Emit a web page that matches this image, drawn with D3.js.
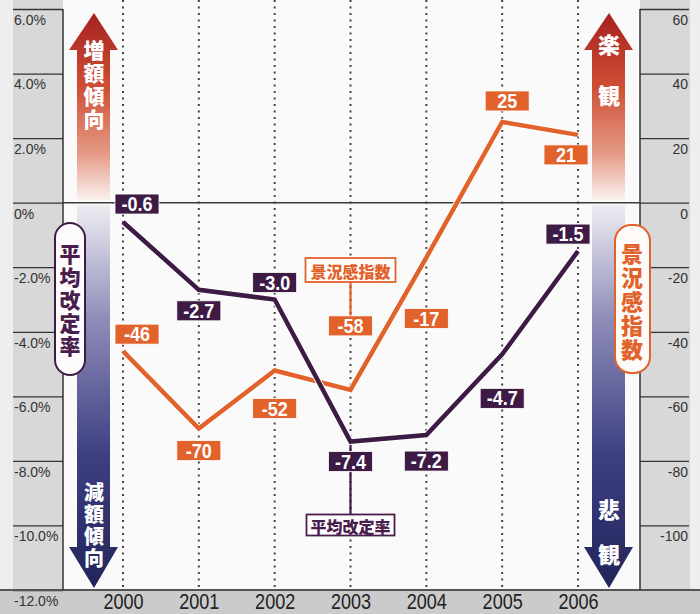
<!DOCTYPE html>
<html lang="ja">
<head>
<meta charset="utf-8">
<script src="https://cdn.jsdelivr.net/npm/d3@7"></script>
<style>
  html, body { margin: 0; padding: 0; background: #efefef; }
  svg { display: block; }
  .num { font-family: "Liberation Sans", Arial, sans-serif; }
  .jp { font-family: "Noto Sans CJK JP", "Noto Sans CJK SC", sans-serif; font-weight: 900; }
</style>
</head>
<body>
<svg id="chart" width="700" height="614"></svg>
<script>
// Years on the x axis
const years = ["2000", "2001", "2002", "2003", "2004", "2005", "2006"];
// 平均改定率 (%), left axis
const rateValues = [-0.6, -2.7, -3.0, -7.4, -7.2, -4.7, -1.5];
// 景況感指数, right axis
const sentimentValues = [-46, -70, -52, -58, -17, 25, 21];
// Axis tick values
const leftTicks = [6, 4, 2, 0, -2, -4, -6, -8, -10, -12];
const rightTicks = [60, 40, 20, 0, -20, -40, -60, -80, -100];

// Value-label placement relative to each point (dx, dy of box centre)
const rateLabelOffsets = [[14, -18], [0, 21], [0, -17], [0, 20], [0, 26], [0, 44], [-10, -17]];
const sentLabelOffsets = [[14, -17], [0, 22], [0, 38], [0, -64], [0, 61], [5, -21], [-12, 20]];

const W = 700, H = 614;
const plotLeft = 63, plotRight = 640, plotTop = 9, plotBottom = 590;
const purple = "#3d1b45", orange = "#e2622b";

// Hyphen-minus formatting, as printed on the chart
const hy = f => v => f(v).replace("\u2212", "-");
const fmtRate = hy(d3.format(".1f"));
const fmtInt = hy(d3.format("d"));

const svg = d3.select("#chart");
const defs = svg.append("defs");

const x = d3.scalePoint().domain(years).range([123, 578]);
const yL = d3.scaleLinear().domain([-12, 6]).range([plotBottom, plotTop]);
const yR = d3.scaleLinear().domain([-120, 60]).range([plotBottom, plotTop]);

// Gradients for the direction arrows
const gUp = defs.append("linearGradient").attr("id", "gUp").attr("x1", 0).attr("y1", 0).attr("x2", 0).attr("y2", 1);
gUp.append("stop").attr("offset", "0%").attr("stop-color", "#a5221f");
gUp.append("stop").attr("offset", "40%").attr("stop-color", "#cf4f35");
gUp.append("stop").attr("offset", "75%").attr("stop-color", "#e59a86");
gUp.append("stop").attr("offset", "100%").attr("stop-color", "#fbf1ee");
const gDown = defs.append("linearGradient").attr("id", "gDown").attr("x1", 0).attr("y1", 0).attr("x2", 0).attr("y2", 1);
gDown.append("stop").attr("offset", "0%").attr("stop-color", "#eeedf3");
gDown.append("stop").attr("offset", "30%").attr("stop-color", "#8d8cb8");
gDown.append("stop").attr("offset", "65%").attr("stop-color", "#3d3f82");
gDown.append("stop").attr("offset", "100%").attr("stop-color", "#22245a");

// Backgrounds
svg.append("rect").attr("x", 0).attr("y", 0).attr("width", W).attr("height", H).attr("fill", "#eeeeee");
svg.append("rect").attr("x", plotLeft).attr("y", 0).attr("width", plotRight - plotLeft).attr("height", plotBottom)
  .attr("fill", "#fafafa");
svg.append("rect").attr("x", 13).attr("y", 0).attr("width", plotLeft - 13).attr("height", plotBottom).attr("fill", "#d8d8d8");
svg.append("rect").attr("x", plotRight).attr("y", 0).attr("width", 50).attr("height", plotBottom).attr("fill", "#d8d8d8");
svg.append("rect").attr("x", 0).attr("y", plotBottom).attr("width", W).attr("height", H - plotBottom).attr("fill", "#cbcbcb");

// Dotted year guides
svg.append("g").selectAll("line").data(years).join("line")
  .attr("x1", d => x(d)).attr("x2", d => x(d)).attr("y1", 0).attr("y2", plotBottom)
  .attr("stroke", "#444").attr("stroke-width", 2).attr("stroke-dasharray", "2 4.5");

// Left axis (ticks drawn as lines across the grey panel, labels below each line)
const axL = svg.append("g").attr("transform", `translate(13,0)`)
  .call(d3.axisRight(yL).tickValues(leftTicks).tickSize(plotLeft - 13)
    .tickFormat(d => d === 0 ? "0%" : fmtRate(d) + "%"));
axL.select(".domain").remove();
axL.selectAll(".tick line").attr("stroke", "#333").attr("stroke-width", 1.3);
axL.selectAll(".tick text").attr("x", 1).attr("dy", "1.1em").attr("text-anchor", "start")
  .attr("class", "num").attr("font-size", 14).attr("fill", "#333");

// Right axis
const axR = svg.append("g").attr("transform", `translate(${plotRight},0)`)
  .call(d3.axisRight(yR).tickValues(rightTicks).tickSize(49).tickFormat(fmtInt));
axR.select(".domain").remove();
axR.selectAll(".tick line").attr("stroke", "#333").attr("stroke-width", 1.3);
axR.selectAll(".tick text").attr("x", 48).attr("dy", "1.1em").attr("text-anchor", "end")
  .attr("class", "num").attr("font-size", 14).attr("fill", "#333");

// Bottom axis with years (slightly condensed lettering)
const axB = svg.append("g").attr("transform", `translate(0,${plotBottom})`)
  .call(d3.axisBottom(x).tickSize(0).tickPadding(0));
axB.select(".domain").remove();
axB.selectAll(".tick text").attr("y", 0).attr("dy", 0)
  .attr("transform", "translate(0,19) scale(0.82,1)")
  .attr("class", "num").attr("font-size", 22).attr("fill", "#222");
svg.append("line").attr("x1", 0).attr("x2", W).attr("y1", plotBottom).attr("y2", plotBottom)
  .attr("stroke", "#555").attr("stroke-width", 2);

// Panel borders and zero line
svg.append("line").attr("x1", plotLeft).attr("x2", plotLeft).attr("y1", plotTop).attr("y2", plotBottom).attr("stroke", "#333").attr("stroke-width", 1.5);
svg.append("line").attr("x1", plotRight).attr("x2", plotRight).attr("y1", plotTop).attr("y2", plotBottom).attr("stroke", "#333").attr("stroke-width", 1.5);
svg.append("line").attr("x1", plotLeft).attr("x2", plotRight).attr("y1", yL(0)).attr("y2", yL(0)).attr("stroke", "#3a3a3a").attr("stroke-width", 1.5);

// Direction arrows
function upArrow(cx) {
  return `M${cx},13 L${cx + 24},50 L${cx + 16},50 L${cx + 16},200 L${cx - 17},200 L${cx - 17},50 L${cx - 25},50 Z`;
}
function downArrow(cx) {
  return `M${cx - 17},205 L${cx + 16},205 L${cx + 16},547 L${cx + 24},547 L${cx},588 L${cx - 25},547 L${cx - 17},547 Z`;
}
svg.append("path").attr("d", upArrow(94)).attr("fill", "url(#gUp)");
svg.append("path").attr("d", downArrow(94)).attr("fill", "url(#gDown)");
svg.append("path").attr("d", upArrow(609)).attr("fill", "url(#gUp)");
svg.append("path").attr("d", downArrow(609)).attr("fill", "url(#gDown)");

// Vertical (top-to-bottom) Japanese captions; y0 is the top of the first character
function vText(label, cx, y0, size, gap, fill) {
  svg.append("text").attr("class", "jp")
    .attr("x", cx).attr("y", y0)
    .attr("writing-mode", "vertical-rl")
    .style("text-orientation", "upright")
    .attr("letter-spacing", gap)
    .attr("text-anchor", "start")
    .attr("font-size", size).attr("fill", fill).text(label);
}
vText("増額傾向", 94, 40, 21, 2, "#fff");
vText("減額傾向", 94, 482, 20, 2, "#fff");
vText("楽", 609, 34, 22, 0, "#fff");
vText("観", 609, 85, 22, 0, "#fff");
vText("悲", 609, 499, 22, 0, "#fff");
vText("観", 609, 544, 22, 0, "#fff");

// Axis title pills
svg.append("rect").attr("x", 55).attr("y", 223).attr("width", 30).attr("height", 152).attr("rx", 15)
  .attr("fill", "#fdfbfc").attr("stroke", purple).attr("stroke-width", 2);
vText("平均改定率", 70, 244, 21, 2, "#4a1d4c");
svg.append("rect").attr("x", 615).attr("y", 225).attr("width", 35).attr("height", 148).attr("rx", 16)
  .attr("fill", "#fdfaf8").attr("stroke", orange).attr("stroke-width", 2);
vText("景況感指数", 632, 243, 22, 2, orange);

// Series lines
const rateData = years.map((yr, i) => ({ year: yr, v: rateValues[i], off: rateLabelOffsets[i] }));
const sentData = years.map((yr, i) => ({ year: yr, v: sentimentValues[i], off: sentLabelOffsets[i] }));

const lineRate = d3.line().x(d => x(d.year)).y(d => yL(d.v));
const lineSent = d3.line().x(d => x(d.year)).y(d => yR(d.v));

// Legend connectors
svg.append("line").attr("x1", x("2003")).attr("x2", x("2003")).attr("y1", 282).attr("y2", 316)
  .attr("stroke", orange).attr("stroke-width", 2.2);
svg.append("line").attr("x1", x("2003")).attr("x2", x("2003")).attr("y1", yL(-7.4)).attr("y2", 515)
  .attr("stroke", purple).attr("stroke-width", 2.2);

svg.append("path").datum(sentData).attr("d", lineSent).attr("fill", "none")
  .attr("stroke", "#fff").attr("stroke-width", 6.5).attr("stroke-linejoin", "miter");
svg.append("path").datum(sentData).attr("d", lineSent).attr("fill", "none")
  .attr("stroke", orange).attr("stroke-width", 4.5).attr("stroke-linejoin", "miter");
svg.append("path").datum(rateData).attr("d", lineRate).attr("fill", "none")
  .attr("stroke", "#fff").attr("stroke-width", 6.5).attr("stroke-linejoin", "miter");
svg.append("path").datum(rateData).attr("d", lineRate).attr("fill", "none")
  .attr("stroke", purple).attr("stroke-width", 4.5).attr("stroke-linejoin", "miter");

// Value labels
function valueLabels(data, yScale, fill, fmt) {
  const g = svg.append("g").selectAll("g").data(data).join("g")
    .attr("transform", d => `translate(${x(d.year) + d.off[0]},${yScale(d.v) + d.off[1]})`);
  g.append("rect").attr("x", -22).attr("y", -10).attr("width", 44).attr("height", 20)
    .attr("fill", fill).attr("stroke", "#fff").attr("stroke-width", 0.8);
  g.append("text").attr("class", "num").attr("text-anchor", "middle")
    .attr("y", 7).attr("transform", "scale(0.9,1)")
    .attr("font-size", 20).attr("font-weight", "bold").attr("fill", "#fff").text(d => fmt(d.v));
}
valueLabels(rateData, yL, purple, fmtRate);
valueLabels(sentData, yR, orange, fmtInt);

// Series name boxes
function nameBox(cx, cy, w, h, label, color) {
  svg.append("rect").attr("x", cx - w / 2).attr("y", cy - h / 2).attr("width", w).attr("height", h)
    .attr("fill", "#fff").attr("stroke", color).attr("stroke-width", 1.8);
  svg.append("text").attr("class", "jp").attr("x", cx).attr("y", cy + 1).attr("text-anchor", "middle")
    .attr("dominant-baseline", "central").attr("font-size", 16).attr("fill", color).text(label);
}
nameBox(x("2003"), 270, 90, 24, "景況感指数", orange);
nameBox(x("2003"), 525, 88, 21, "平均改定率", "#4a1d4c");
</script>
</body>
</html>
